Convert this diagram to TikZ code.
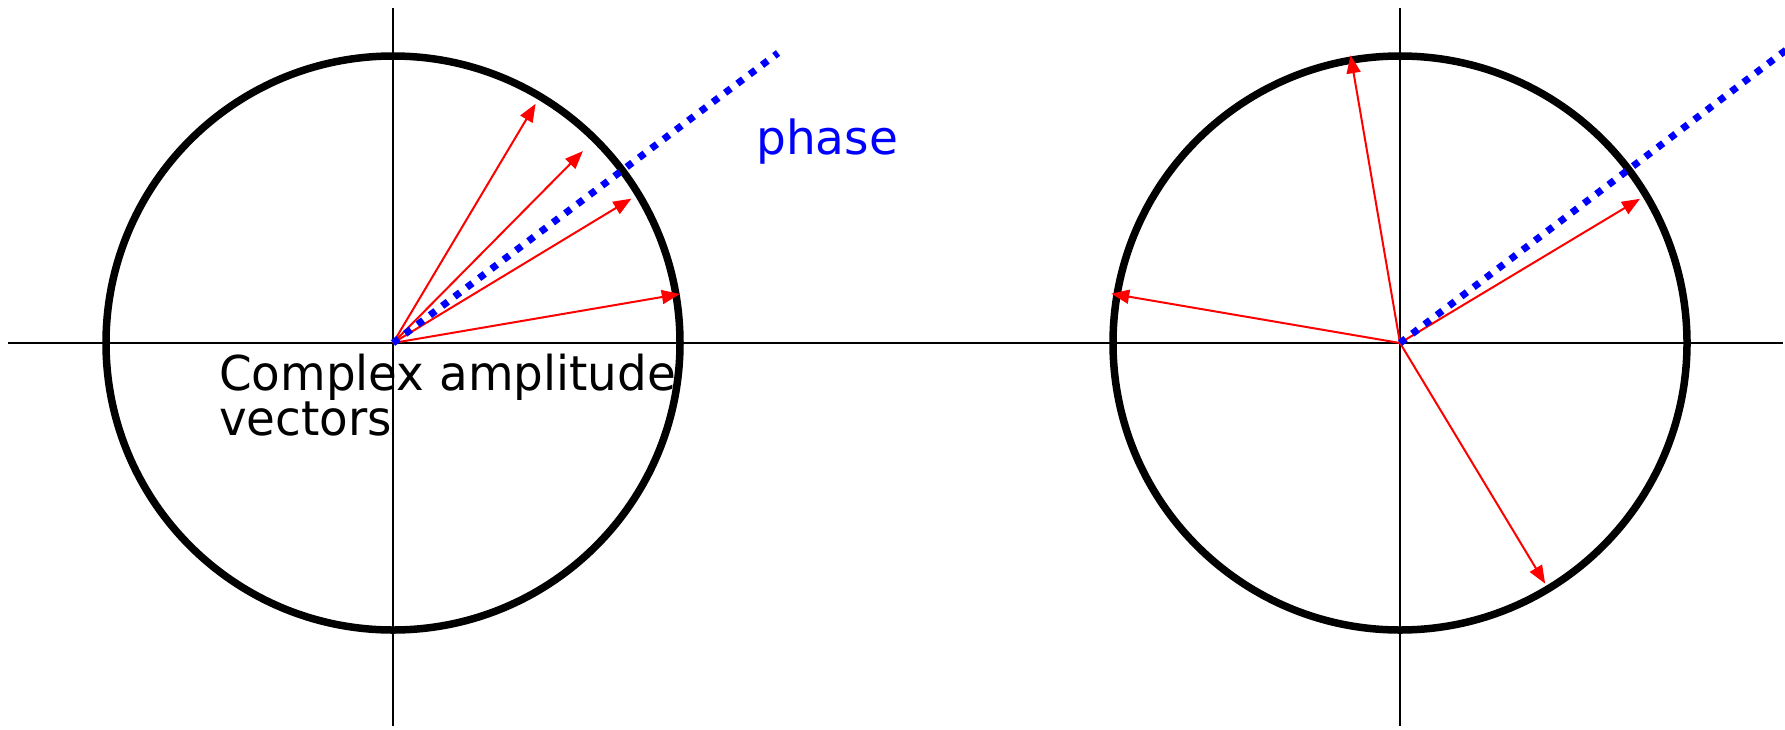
\documentclass[tikz,border=0pt]{standalone}
\usepackage{fontspec}
\setmainfont{DejaVu Sans}
\usetikzlibrary{arrows.meta}
\begin{document}
\begin{tikzpicture}[x=1pt,y=-1pt,
  axis/.style={black,line width=2pt},
  ring/.style={black,line width=7.5pt},
  vec/.style={red,line width=2pt,-{Triangle[length=18pt,width=14pt]}},
  phaseline/.style={blue,line width=7pt,dash pattern=on 7pt off 8.4pt},
  lbl/.style={inner sep=0pt,anchor=base west}]
\useasboundingbox (0,0) rectangle (1785,729);
% centres
\coordinate (c1) at (393,343);
\coordinate (c2) at (1400,343);
% axes
\coordinate (hl) at (8,343);
\coordinate (hr) at (1783,343);
\coordinate (v1t) at (393,8);
\coordinate (v1b) at (393,726);
\coordinate (v2t) at (1400,8);
\coordinate (v2b) at (1400,726);
\draw[axis] (hl) -- (hr);
\draw[axis] (v1t) -- (v1b);
\draw[axis] (v2t) -- (v2b);
% circles
\draw[ring] (c1) circle[radius=287];
\draw[ring] (c2) circle[radius=287];
% left vectors
\path (c1) ++(-59.2:278.5) coordinate (a1);
\path (c1) ++(-45.3:270) coordinate (a2);
\path (c1) ++(-31.2:278.7) coordinate (a3);
\path (c1) ++(-9.7:291) coordinate (a4);
\foreach \t in {a1,a2,a3,a4} \draw[vec] (c1) -- (\t);
% right vectors
\path (c2) ++(-99.75:292) coordinate (b1);
\path (c2) ++(-170.3:293) coordinate (b2);
\path (c2) ++(-31:280) coordinate (b3);
\path (c2) ++(58.9:281) coordinate (b4);
\foreach \t in {b1,b2,b3,b4} \draw[vec] (c2) -- (\t);
% phase lines
\coordinate (p1) at (778,53);
\coordinate (p2) at (1790,47);
\draw[phaseline] (c1) -- (p1);
\begin{scope}
\clip (0,0) rectangle (1785,729);
\draw[phaseline] (c2) -- (p2);
\end{scope}
% labels
\node[lbl,text=blue,font=\fontsize{47}{47}\selectfont] (phase) at (756,154) {phase};
\node[lbl,font=\fontsize{48}{45.7}\selectfont,xscale=0.975,align=left] (cav) at (219,435.7) {Complex amplitude\\vectors};
\end{tikzpicture}
\end{document}
